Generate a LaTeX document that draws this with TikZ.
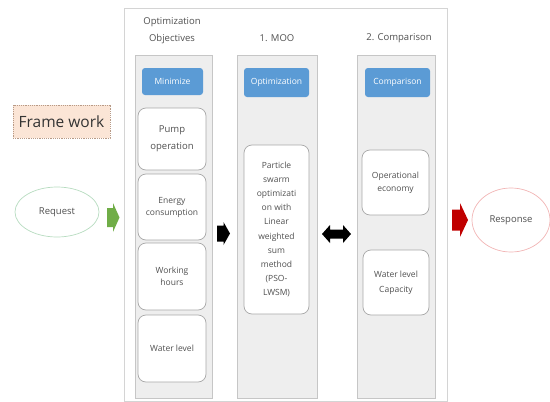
\documentclass[tikz,border=0pt]{standalone}
\usepackage{fontspec}
\setmainfont{Open Sans}
\usetikzlibrary{shapes.geometric}

\definecolor{framegray}{HTML}{D4D4D4}
\definecolor{panelfill}{HTML}{EEEEEE}
\definecolor{panelline}{HTML}{C6C6C6}
\definecolor{btnblue}{HTML}{5B9BD5}
\definecolor{boxline}{HTML}{A8A8A8}
\definecolor{txtgray}{HTML}{505050}
\definecolor{peach}{HTML}{FBE5D6}
\definecolor{peachline}{HTML}{B89A86}
\definecolor{reqline}{HTML}{B7DCC0}
\definecolor{respline}{HTML}{F2B5B5}
\definecolor{arrgreen}{HTML}{70AD47}
\definecolor{arrred}{HTML}{C00000}

\tikzset{
  panel/.style={draw=panelline, fill=panelfill, line width=0.8pt, inner sep=0pt},
  btn/.style={fill=btnblue, rounded corners=3pt, inner sep=0pt, text=white,
    font=\fontsize{8.5}{10}\selectfont},
  itembox/.style={draw=boxline, fill=white, rounded corners=8pt, line width=0.7pt,
    inner sep=0pt, align=center, text=txtgray, font=\fontsize{8.5}{12}\selectfont},
  title/.style={align=center, text=txtgray, inner sep=0pt, font=\fontsize{9.5}{17}\selectfont},
  endpoint/.style={ellipse, draw, line width=0.7pt, fill=white, inner sep=0pt,
    text=txtgray, font=\fontsize{9.5}{12}\selectfont},
}

% block arrow pointing right: #1 = tail x, #2 = head start x, #3 = tip x,
% #4 = centre y, #5 = shaft half height, #6 = head half height
\newcommand\flowarrowR[6]{%
  (#1,#4-#5) -- (#2,#4-#5) -- (#2,#4-#6) -- (#3,#4) -- (#2,#4+#6) --
  (#2,#4+#5) -- (#1,#4+#5) -- cycle}

\begin{document}
\begin{tikzpicture}[x=1pt, y=-1pt]
  \useasboundingbox (0,0) rectangle (550,402);

  % outer frame of the three stages
  \node[draw=framegray, line width=0.9pt, fill=white, minimum width=323pt,
        minimum height=393pt, inner sep=0pt] (frame) at (285.5,204.5) {};

  % stage titles
  \node[title] (t1) at (172,31) {Optimization\\Objectives};
  \node[title] (t2) at (277,38) {1. MOO};
  \node[title] (t3) at (399,38) {2. Comparison};

  % stage panels
  \node[panel, minimum width=77pt, minimum height=343pt] (p1) at (173.5,226.5) {};
  \node[panel, minimum width=80pt, minimum height=343pt] (p2) at (277,226.5) {};
  \node[panel, minimum width=78pt, minimum height=343pt] (p3) at (396,226.5) {};

  % panel headers
  \node[btn, minimum width=61pt, minimum height=27pt] (b1) at (172.5,81.5) {Minimize};
  \node[btn, minimum width=65pt, minimum height=29pt] (b2) at (276.5,82.5) {Optimization};
  \node[btn, minimum width=65pt, minimum height=29pt] (b3) at (397.5,82.5) {Comparison};

  % objectives
  \node[itembox, minimum width=68pt, minimum height=62pt,
        font=\fontsize{9.5}{17}\selectfont] (pump) at (172,139) {Pump\\operation};
  \node[itembox, minimum width=68pt, minimum height=66pt] (energy) at (172,207) {Energy\\consumption};
  \node[itembox, minimum width=68pt, minimum height=67pt] (hours) at (172,276.5) {Working\\hours};
  \node[itembox, minimum width=68pt, minimum height=67pt] (level) at (172,348.5) {Water level};

  % optimisation method
  \node[itembox, minimum width=65pt, minimum height=169pt,
        font=\fontsize{8.5}{14.2}\selectfont] (pso) at (276.5,229.5)
        {Particle\\swarm\\optimizati\\on with\\Linear\\weighted\\sum\\method\\(PSO-\\LWSM)};

  % comparison criteria
  \node[itembox, minimum width=67pt, minimum height=65pt,
        font=\fontsize{8.5}{13}\selectfont] (econ) at (395.5,182.5) {Operational\\economy};
  \node[itembox, minimum width=66pt, minimum height=65pt,
        font=\fontsize{8.5}{15}\selectfont] (cap) at (396,282.5) {Water level\\Capacity};

  % label
  \node[draw=peachline, dashed, dash pattern=on 1.2pt off 1pt, fill=peach,
        minimum width=97pt, minimum height=33pt, inner sep=0pt, text=black!80,
        font=\fontsize{15.5}{18}\selectfont] (fw) at (61.5,121.5) {Frame work};

  % request / response
  \node[endpoint, draw=reqline, minimum width=84pt, minimum height=50pt] (req) at (57,212) {Request};
  \node[endpoint, draw=respline, minimum width=78pt, minimum height=64pt] (resp) at (511,220) {Response};

  % flow arrows
  \fill[arrgreen] \flowarrowR{107}{113}{119.5}{217.5}{9.5}{14.5};
  \fill[black]    \flowarrowR{217}{223.5}{230}{233.5}{8}{11.5};
  \fill[arrred]   \flowarrowR{452}{460}{468}{220}{10.5}{17};
  % two-headed arrow between the MOO and comparison stages
  \fill[black] (322,234) -- (330,225) -- (330,229.5) -- (343,229.5) -- (343,225)
               -- (351,234) -- (343,243) -- (343,238.5) -- (330,238.5) -- (330,243) -- cycle;
\end{tikzpicture}
\end{document}
